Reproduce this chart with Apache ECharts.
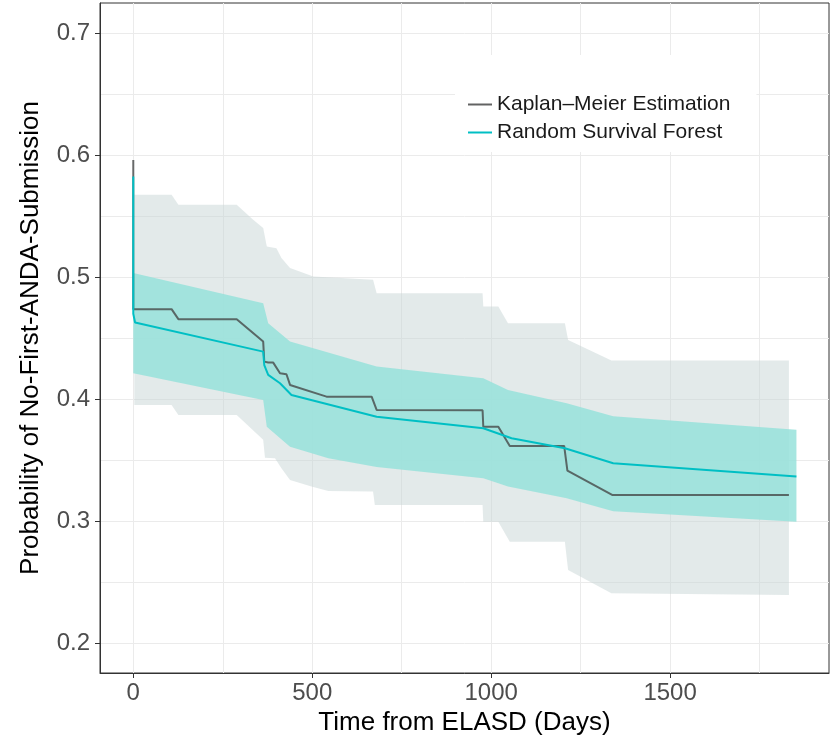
<!DOCTYPE html>
<html>
<head>
<meta charset="utf-8">
<script src="https://cdn.jsdelivr.net/npm/echarts@6/dist/echarts.min.js"></script>
<style>
html,body{margin:0;padding:0;background:#fff;}
#chart{width:837px;height:741px;}
</style>
</head>
<body>
<div id="chart"></div>
<script>
// ---- data ----
const xMajorTicks = [0, 500, 1000, 1500];
const xMinorTicks = [250, 750, 1250, 1750];
const yMajorTicks = [0.2, 0.3, 0.4, 0.5, 0.6, 0.7];
const yMinorTicks = [0.25, 0.35, 0.45, 0.55, 0.65];

const seriesNames = ['Kaplan–Meier Estimation', 'Random Survival Forest'];

const kmLine = [[0,0.596],[0,0.4738],[107,0.4738],[126,0.4656],[289,0.4656],[363,0.4472],[366,0.4308],[377,0.4300],[391,0.4300],[410,0.4213],[428,0.4205],[438,0.4117],[540,0.4021],[666,0.4021],[680,0.3912],[976,0.3910],[978,0.3775],[1020,0.3775],[1052,0.3617],[1204,0.3617],[1213,0.3415],[1338,0.3216],[1832,0.3216]];
const kmUpper = [[3,0.5675],[107,0.5675],[126,0.5593],[289,0.5593],[335,0.5470],[363,0.5402],[373,0.5251],[400,0.5237],[414,0.5156],[438,0.5074],[503,0.5005],[670,0.4978],[680,0.4869],[976,0.4869],[978,0.4759],[1020,0.4759],[1047,0.4623],[1206,0.4623],[1215,0.4486],[1336,0.4318],[1832,0.4318]];
const kmLower = [[3,0.3953],[107,0.3953],[126,0.3871],[289,0.3871],[363,0.3667],[368,0.3520],[396,0.3516],[414,0.3434],[438,0.3339],[498,0.3284],[545,0.3249],[670,0.3243],[675,0.3134],[976,0.3134],[978,0.2997],[1020,0.2997],[1052,0.2833],[1206,0.2833],[1215,0.2601],[1336,0.2410],[1832,0.2396]];

const rsfLine = [[0,0.5825],[0,0.4700],[5,0.4628],[363,0.4390],[366,0.4280],[377,0.4199],[410,0.4131],[442,0.4035],[680,0.3857],[978,0.3762],[1057,0.3680],[1206,0.3598],[1341,0.3475],[1853,0.3366]];
const rsfUpper = [[0,0.5033],[363,0.4787],[377,0.4623],[438,0.4472],[680,0.4267],[978,0.4172],[1047,0.4076],[1211,0.3967],[1341,0.3860],[1853,0.3749]];
const rsfLower = [[0,0.4213],[363,0.3994],[373,0.3775],[438,0.3611],[545,0.3516],[680,0.3445],[978,0.3352],[1047,0.3284],[1211,0.3189],[1341,0.3083],[1853,0.2997]];

// ---- chart ----
const FONT = '"Liberation Sans", Arial, sans-serif';
const X_MIN = -93, X_MAX = 1944, Y_MIN = 0.1757, Y_MAX = 0.7246;
const GRID_COLOR = '#ebebeb';

function bandSeries(upper, lower, fill, z) {
  return {
    type: 'custom',
    xAxisIndex: 0, yAxisIndex: 0,
    silent: true,
    z: z,
    data: [0],
    renderItem: function (params, api) {
      const pts = upper.map(p => api.coord(p)).concat(lower.slice().reverse().map(p => api.coord(p)));
      return { type: 'polygon', shape: { points: pts }, style: { fill: fill, stroke: null } };
    }
  };
}

function xAxisDef(ticks, major) {
  return {
    type: 'value', position: 'bottom', min: X_MIN, max: X_MAX,
    axisLine: { show: major, onZero: false, lineStyle: { color: '#333', width: 1 } },
    axisTick: { show: major, customValues: ticks, length: 5, lineStyle: { color: '#333', width: 1 } },
    axisLabel: { show: major, customValues: ticks, margin: 8, fontSize: 24, fontFamily: FONT, color: '#4d4d4d',
      formatter: v => String(Math.round(v)) },
    splitLine: { show: true, lineStyle: { color: GRID_COLOR, width: 1 } },
    name: major ? 'Time from ELASD (Days)' : '',
    nameLocation: 'middle', nameGap: 33,
    nameTextStyle: { fontSize: 26, fontFamily: FONT, color: '#000' }
  };
}
function yAxisDef(ticks, major) {
  return {
    type: 'value', position: 'left', min: Y_MIN, max: Y_MAX,
    axisLine: { show: major, onZero: false, lineStyle: { color: '#333', width: 1 } },
    axisTick: { show: major, customValues: ticks, length: 5, lineStyle: { color: '#333', width: 1 } },
    axisLabel: { show: major, customValues: ticks, margin: 10, fontSize: 24, fontFamily: FONT, color: '#4d4d4d',
      formatter: v => v.toFixed(1) },
    splitLine: { show: true, lineStyle: { color: GRID_COLOR, width: 1 } },
    name: major ? 'Probability of No-First-ANDA-Submission' : '',
    nameLocation: 'middle', nameGap: 56, nameRotate: 90,
    nameTextStyle: { fontSize: 26, fontFamily: FONT, color: '#000' }
  };
}

const chart = echarts.init(document.getElementById('chart'), null, { renderer: 'canvas' });
chart.setOption({
  animation: false,
  backgroundColor: '#fff',
  grid: { left: 100, right: 8, top: 3, bottom: 68, containLabel: false, outerBoundsMode: 'none',
    show: true, borderColor: '#333', borderWidth: 1, backgroundColor: 'transparent' },
  xAxis: [xAxisDef(xMajorTicks, true), xAxisDef(xMinorTicks, false)],
  yAxis: [yAxisDef(yMajorTicks, true), yAxisDef(yMinorTicks, false)],
  legend: {
    data: seriesNames,
    orient: 'vertical',
    left: 455, top: 55,
    padding: [39, 26, 9, 13],
    itemGap: 7,
    itemWidth: 24, itemHeight: 2,
    icon: 'rect',
    backgroundColor: '#fff',
    textStyle: { fontSize: 21, lineHeight: 20, fontFamily: FONT, color: '#1a1a1a' }
  },
  series: [
    bandSeries(kmUpper, kmLower, 'rgba(200,214,214,0.5)', 1),
    bandSeries(rsfUpper, rsfLower, 'rgba(150,226,218,0.85)', 2),
    {
      name: seriesNames[0], type: 'line', data: kmLine, z: 3,
      xAxisIndex: 0, yAxisIndex: 0,
      symbol: 'none', showSymbol: false,
      lineStyle: { color: 'rgba(70,72,72,0.8)', width: 2 },
      itemStyle: { color: 'rgba(70,72,72,0.85)' }
    },
    {
      name: seriesNames[1], type: 'line', data: rsfLine, z: 4,
      xAxisIndex: 0, yAxisIndex: 0,
      symbol: 'none', showSymbol: false,
      lineStyle: { color: '#00BFC4', width: 2 },
      itemStyle: { color: '#00BFC4' }
    }
  ]
});
</script>
</body>
</html>
